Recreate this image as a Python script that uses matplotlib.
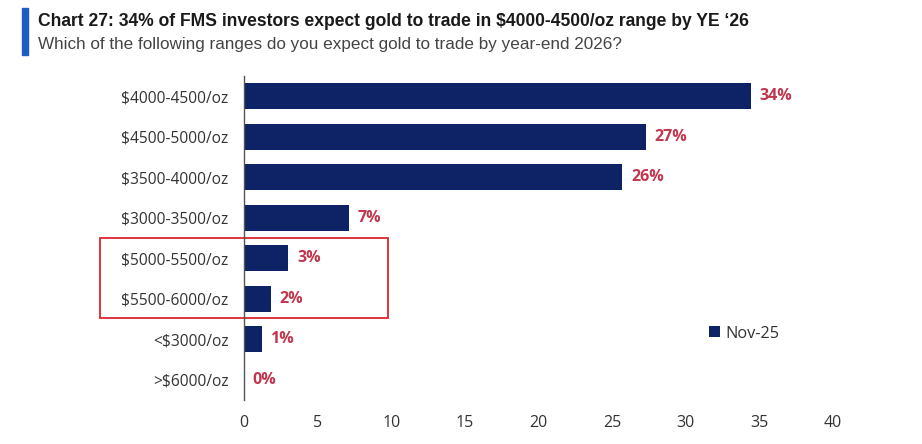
import matplotlib
matplotlib.use("Agg")
import matplotlib.pyplot as plt
from matplotlib.patches import Rectangle
import matplotlib.transforms as mtransforms

categories = ["$4000-4500/oz", "$4500-5000/oz", "$3500-4000/oz", "$3000-3500/oz",
              "$5000-5500/oz", "$5500-6000/oz", "<$3000/oz", ">$6000/oz"]
values = [34.4, 27.3, 25.7, 7.1, 3.0, 1.8, 1.2, 0.0]
value_labels = ["34%", "27%", "26%", "7%", "3%", "2%", "1%", "0%"]
xticks = [0, 5, 10, 15, 20, 25, 30, 35, 40]
series_name = "Nov-25"

plt.rcParams['font.family'] = ['Open Sans', 'DejaVu Sans']
navy = "#0E2366"
red = "#C2364F"

fig = plt.figure(figsize=(9.22, 4.44), dpi=100)
ax = fig.add_axes([244/922, 1-400/444, (833-244)/922, (400-76)/444])

ypos = list(range(len(categories)))
ax.barh(ypos, values, height=0.65, color=navy, label=series_name)
for y, v, lab in zip(ypos, values, value_labels):
    ax.text(v + 0.6, y, lab, va="center", ha="left", color=red,
            fontsize=11.5, fontweight="bold")

ax.set_ylim(len(categories) - 0.5, -0.5)
ax.set_xlim(0, 40)
ax.set_yticks(ypos)
ax.set_yticklabels([c.replace("$", r"\$") for c in categories], fontsize=11.2, color="#333333")
ax.set_xticks(xticks)
ax.set_xticklabels([str(t) for t in xticks], fontsize=11.5, color="#333333")
ax.tick_params(axis="both", length=0)
ax.tick_params(axis="y", pad=11)
ax.tick_params(axis="x", pad=11)
for s in ["top", "right", "bottom"]:
    ax.spines[s].set_visible(False)
ax.spines["left"].set_color("#555555")
ax.spines["left"].set_linewidth(1.0)

# red highlight box around $5000-5500 and $5500-6000
trans = mtransforms.blended_transform_factory(fig.transFigure, ax.transData)
rect = Rectangle((100/922, 5.48), (388-100)/922, -2.0 + 0.02, transform=trans,
                 fill=False, edgecolor="#D9262E", linewidth=1.3, clip_on=False)
ax.add_patch(rect)

leg = ax.legend(loc="upper left", bbox_to_anchor=(0.765, 0.275), frameon=False,
                fontsize=11.8, handlelength=0.65, handleheight=0.65, handletextpad=0.35)
for t in leg.get_texts():
    t.set_color("#333333")

# title block
fig.patches.append(Rectangle((22/922, 1-55/444), 6/922, 47/444, transform=fig.transFigure,
                             color="#1F5BC6", zorder=5))
fig.text(38/922, 1-22/444, "Chart 27: 34% of FMS investors expect gold to trade in $4000-4500/oz range by YE \u201826",
         fontsize=12.65, fontweight="bold", color="#1a1a1a", va="center", ha="left",
         family=['Liberation Sans Narrow', 'Liberation Sans', 'DejaVu Sans'])
fig.text(38/922, 1-45/444, "Which of the following ranges do you expect gold to trade by year-end 2026?",
         fontsize=12.3, color="#444444", va="center", ha="left",
         family=['Liberation Sans Narrow', 'Liberation Sans', 'DejaVu Sans'])

fig.savefig("out.png", dpi=100, facecolor="white")
